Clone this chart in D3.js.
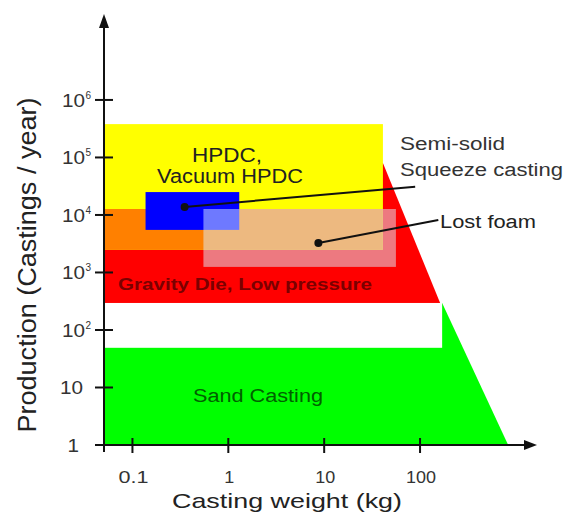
<!DOCTYPE html>
<html>
<head>
<meta charset="utf-8">
<script src="https://cdn.jsdelivr.net/npm/d3@7"></script>
<style>
  html, body { margin: 0; padding: 0; background: #fff; }
  svg { display: block; font-family: "Liberation Sans", Arial, sans-serif; }
</style>
</head>
<body>
<svg id="chart" width="566" height="523"></svg>
<script>
// ---------- data (kg on x, castings/year on y) ----------
const xTicks = [0.1, 1, 10, 100];
const xTickLabels = ["0.1", "1", "10", "100"];
const yTicks = [1, 10, 100, 1e3, 1e4, 1e5, 1e6];
const yTickBase = ["1", "10", "10", "10", "10", "10", "10"];
const yTickExp = ["", "", "2", "3", "4", "5", "6"];

// region outlines
const sandCasting = [[0.05, 1], [0.05, 295], [170, 295], [830, 1]];
const gapBand = [[0.05, 49], [170, 295]];               // white band [x0,y0],[x1,y1]
const gravityDie = [[0.05, 295], [0.05, 8e4], [41, 8e4], [162, 295]];
const hpdc = [[0.05, 2500], [41, 3.8e5]];
const vacuumBand = [[0.05, 2500], [41, 1.27e4]];
const semiSolid = [[0.137, 5500], [1.3, 2.5e4]];
const lostFoam = [[0.55, 1250], [56, 1.27e4]];
const semiLeader = [[0.35, 1.38e4], [89, 3.1e4]];
const foamLeader = [[8.7, 3250], [155, 8200]];

// ---------- scales ----------
const svg = d3.select("#chart");
const x = d3.scaleLog().domain([0.0505, 1620]).range([104, 536]);
const y = d3.scaleLog().domain([1, 3e7]).range([445, 15]);

const poly = pts => pts.map(p => [x(p[0]), y(p[1])].join(",")).join(" ");
const rect = (b, fill, op) => svg.append("rect")
  .attr("x", x(b[0][0])).attr("y", y(b[1][1]))
  .attr("width", x(b[1][0]) - x(b[0][0]))
  .attr("height", y(b[0][1]) - y(b[1][1]))
  .attr("fill", fill).attr("fill-opacity", op == null ? 1 : op);

// ---------- regions ----------
svg.append("polygon").attr("points", poly(gravityDie)).attr("fill", "#ff0000");
rect(hpdc, "#ffff00");
rect(vacuumBand, "#ff8000");
svg.append("polygon").attr("points", poly(sandCasting)).attr("fill", "#00ff00");
rect(gapBand, "#ffffff");
rect(semiSolid, "#0000ff");
rect(lostFoam, "#dcf2ff", 0.5);

// leader lines and dots
[semiLeader, foamLeader].forEach(l => {
  svg.append("line")
    .attr("x1", x(l[0][0])).attr("y1", y(l[0][1]))
    .attr("x2", x(l[1][0])).attr("y2", y(l[1][1]))
    .attr("stroke", "#111").attr("stroke-width", 2);
  svg.append("circle").attr("cx", x(l[0][0])).attr("cy", y(l[0][1]))
    .attr("r", 4).attr("fill", "#111");
});

// ---------- region labels ----------
function label(txt, px, py, size, color, anchor, weight, len) {
  const t = svg.append("text").attr("x", px).attr("y", py)
    .attr("font-size", size).attr("fill", color)
    .attr("text-anchor", anchor || "start")
    .attr("font-weight", weight || "normal").text(txt);
  if (len) t.attr("textLength", len).attr("lengthAdjust", "spacingAndGlyphs");
  return t;
}
label("HPDC,", 227, 162, 20, "#222", "middle", "normal", 70);
label("Vacuum HPDC", 230, 183, 20, "#222", "middle", "normal", 146);
label("Semi-solid", 400, 150, 18, "#333", "start", "normal", 105);
label("Squeeze casting", 400, 176, 18, "#333", "start", "normal", 163);
label("Lost foam", 440, 228, 18, "#222", "start", "normal", 96);
label("Gravity Die, Low pressure", 118, 290, 17, "#7a0000", "start", "bold", 254);
label("Sand Casting", 193, 402, 18, "#006000", "start", "normal", 130);

// ---------- axes ----------
const axisG = svg.append("g").attr("stroke", "#111").attr("stroke-width", 2);
axisG.append("line").attr("x1", 104).attr("y1", 445).attr("x2", 530).attr("y2", 445);
axisG.append("line").attr("x1", 104).attr("y1", 452).attr("x2", 104).attr("y2", 22);
svg.append("path").attr("d", "M537,445 L524,440 L524,450 Z").attr("fill", "#111");
svg.append("path").attr("d", "M104,14 L99,28 L109,28 Z").attr("fill", "#111");

// y ticks
yTicks.forEach((v, i) => {
  axisG.append("line").attr("x1", 95).attr("x2", 113).attr("y1", y(v)).attr("y2", y(v));
  const base = yTickBase[i];
  const endX = yTickExp[i] ? 85 : (base === "1" ? 79 : 83);
  svg.append("text").attr("x", endX).attr("y", y(v) + 7)
    .attr("font-size", 18).attr("fill", "#333").attr("text-anchor", "end")
    .attr("textLength", base.length * 11.5).attr("lengthAdjust", "spacingAndGlyphs")
    .text(base);
  if (yTickExp[i]) {
    svg.append("text").attr("x", 85.5).attr("y", y(v) - 1)
      .attr("font-size", 10).attr("fill", "#333").text(yTickExp[i]);
  }
});
// x ticks
xTicks.forEach((v, i) => {
  axisG.append("line").attr("x1", x(v)).attr("x2", x(v)).attr("y1", 438).attr("y2", 453);
  svg.append("text").attr("x", x(v) + 1).attr("y", 483).attr("font-size", 17)
    .attr("fill", "#333").attr("text-anchor", "middle")
    .attr("textLength", xTickLabels[i].length * 10).attr("lengthAdjust", "spacingAndGlyphs")
    .text(xTickLabels[i]);
});

// axis titles
label("Casting weight (kg)", 287, 508, 21, "#222", "middle", "normal", 230);
svg.append("text").attr("transform", "translate(36,265) rotate(-90)")
  .attr("font-size", 26).attr("fill", "#222").attr("text-anchor", "middle")
  .attr("textLength", 335).attr("lengthAdjust", "spacingAndGlyphs")
  .text("Production (Castings / year)");
</script>
</body>
</html>
